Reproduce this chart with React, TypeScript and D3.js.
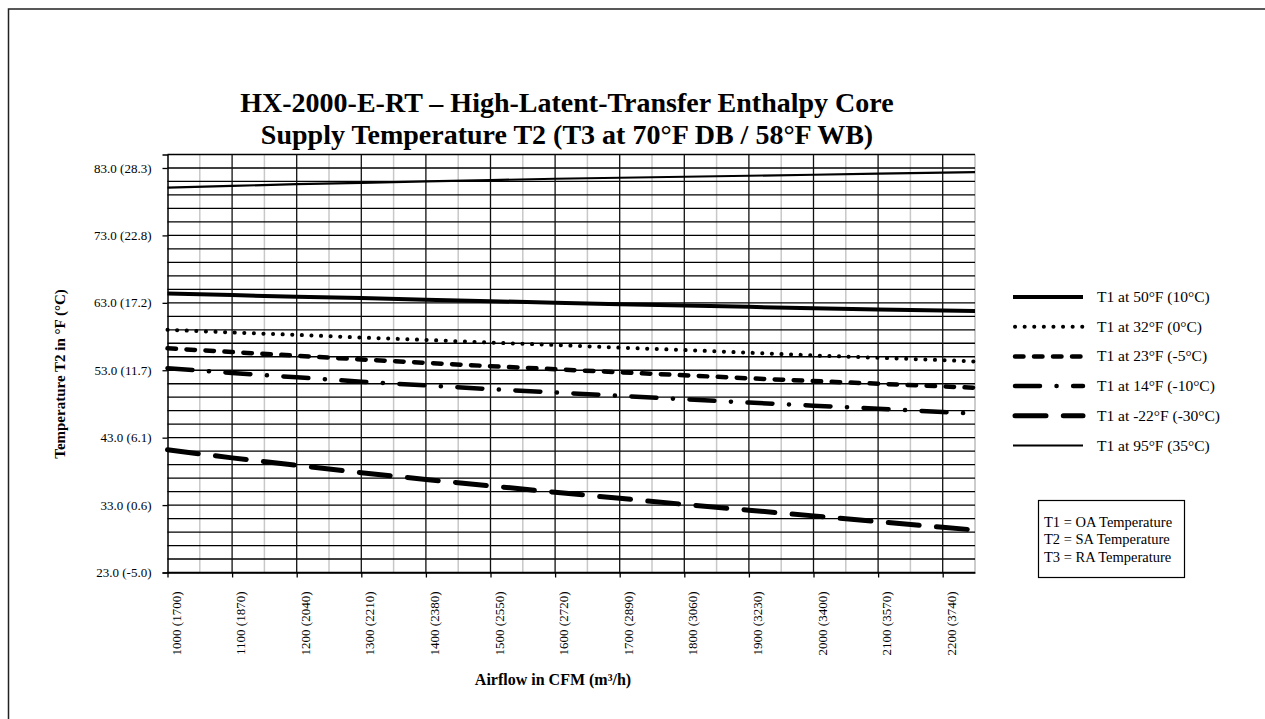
import * as d3 from "d3";
import React, { useEffect, useRef } from "react";

// Airflow in CFM (x values of every series)
const airflow = [1000, 1100, 1200, 1300, 1400, 1500, 1600, 1700, 1800, 1900, 2000, 2100, 2200, 2250];

// Supply temperature T2 in °F
const t1At50 = [64.4, 64.15, 63.9, 63.7, 63.45, 63.25, 63.0, 62.8, 62.6, 62.4, 62.2, 62.0, 61.85, 61.8];
const t1At32 = [59.0, 58.6, 58.25, 57.85, 57.5, 57.1, 56.75, 56.35, 56.0, 55.6, 55.2, 54.85, 54.5, 54.3];
const t1At23 = [56.25, 55.7, 55.15, 54.6, 54.1, 53.6, 53.15, 52.7, 52.25, 51.8, 51.4, 51.0, 50.6, 50.4];
const t1At14 = [53.3, 52.6, 51.95, 51.3, 50.75, 50.2, 49.7, 49.2, 48.7, 48.2, 47.75, 47.3, 46.8, 46.55];
const t1AtMinus22 = [41.2, 40.0, 38.9, 37.8, 36.8, 35.85, 34.9, 34.0, 33.1, 32.25, 31.4, 30.55, 29.7, 29.3];
const t1At95 = [80.1, 80.35, 80.6, 80.8, 81.0, 81.2, 81.4, 81.55, 81.7, 81.85, 82.0, 82.15, 82.3, 82.4];

const seriesNames = [
  "T1 at 50°F (10°C)",
  "T1 at 32°F (0°C)",
  "T1 at 23°F (-5°C)",
  "T1 at 14°F (-10°C)",
  "T1 at -22°F (-30°C)",
  "T1 at 95°F (35°C)",
];
const seriesValues = [t1At50, t1At32, t1At23, t1At14, t1AtMinus22, t1At95];

const yTickValues = [23, 33, 43, 53, 63, 73, 83];
const yTickLabels = ["23.0 (-5.0)", "33.0 (0.6)", "43.0 (6.1)", "53.0 (11.7)", "63.0 (17.2)", "73.0 (22.8)", "83.0 (28.3)"];

const xTickValues = [1000, 1100, 1200, 1300, 1400, 1500, 1600, 1700, 1800, 1900, 2000, 2100, 2200];
const xTickLabels = [
  "1000 (1700)", "1100 (1870)", "1200 (2040)", "1300 (2210)", "1400 (2380)", "1500 (2550)", "1600 (2720)",
  "1700 (2890)", "1800 (3060)", "1900 (3230)", "2000 (3400)", "2100 (3570)", "2200 (3740)",
];

const legendNotes = ["T1 = OA Temperature", "T2 = SA Temperature", "T3 = RA Temperature"];

const titleLines = ["HX-2000-E-RT – High-Latent-Transfer Enthalpy Core", "Supply Temperature T2 (T3 at 70°F DB / 58°F WB)"];

const FONT = "'Liberation Serif', 'Times New Roman', serif";

// line styles, same order as seriesNames
const styles = [
  { width: 4, dash: null, cap: "butt" },
  { width: 4, dash: "0.1 9.5", cap: "round" },
  { width: 4.5, dash: "8.5 10.5", cap: "round" },
  { width: 4.5, dash: "25 16.5 0.1 16.5", cap: "round" },
  { width: 5, dash: "31 17.3", cap: "round" },
  { width: 2.2, dash: null, cap: "butt" },
];

export default function App() {
  const ref = useRef<SVGSVGElement>(null);

  useEffect(() => {
    const svg = d3.select(ref.current);
    svg.selectAll("*").remove();

    const width = 1265;
    const height = 719;
    const plot = { left: 167.5, right: 975, top: 154.5, bottom: 572.5 };

    const x = d3.scaleLinear().domain([1000, 2250]).range([plot.left, plot.right]);
    const y = d3.scaleLinear().domain([23, 85]).range([plot.bottom, plot.top]);

    svg.attr("width", width).attr("height", height).style("font-family", FONT);

    // outer frame (runs past the window)
    svg
      .append("rect")
      .attr("x", 8.5)
      .attr("y", 9)
      .attr("width", 1400)
      .attr("height", 900)
      .attr("fill", "none")
      .attr("stroke", "#222")
      .attr("stroke-width", 1.5);

    // title
    svg
      .append("g")
      .selectAll("text")
      .data(titleLines)
      .join("text")
      .attr("x", 567)
      .attr("y", (_, i) => 112 + i * 32)
      .attr("text-anchor", "middle")
      .attr("font-weight", "bold")
      .attr("font-size", 28)
      .text((d) => d);

    const grid = svg.append("g");

    // light vertical lines at the half steps
    grid
      .selectAll("line.minor")
      .data(d3.range(1050, 2251, 100).concat([2250]))
      .join("line")
      .attr("class", "minor")
      .attr("x1", (d) => x(d))
      .attr("x2", (d) => x(d))
      .attr("y1", plot.top)
      .attr("y2", plot.bottom)
      .attr("stroke", "#c8c8c8")
      .attr("stroke-width", 1.5);

    // horizontal lines every 2 °F
    grid
      .selectAll("line.h")
      .data(d3.range(23, 85.1, 2))
      .join("line")
      .attr("class", "h")
      .attr("x1", plot.left)
      .attr("x2", plot.right)
      .attr("y1", (d) => y(d))
      .attr("y2", (d) => y(d))
      .attr("stroke", "#000")
      .attr("stroke-width", 1.3);

    // dark vertical lines
    grid
      .selectAll("line.major")
      .data(xTickValues.slice(1))
      .join("line")
      .attr("class", "major")
      .attr("x1", (d) => x(d))
      .attr("x2", (d) => x(d))
      .attr("y1", plot.top)
      .attr("y2", plot.bottom)
      .attr("stroke", "#111")
      .attr("stroke-width", 1.3);

    // y axis
    const yAxis = d3
      .axisLeft(y)
      .tickValues(yTickValues)
      .tickSize(5)
      .tickPadding(11)
      .tickFormat((_, i) => yTickLabels[i]);
    svg
      .append("g")
      .attr("transform", `translate(${plot.left},0)`)
      .call(yAxis)
      .call((g) => g.select(".domain").attr("stroke", "#000").attr("stroke-width", 1.5))
      .call((g) => g.selectAll(".tick line").attr("stroke-width", 1.3))
      .call((g) => g.selectAll("text").style("font-family", FONT).style("font-size", "13px").attr("fill", "#000"));

    // x axis
    const xAxis = d3.axisBottom(x).tickValues(xTickValues).tickSize(5).tickSizeOuter(0).tickFormat((_, i) => xTickLabels[i]);
    svg
      .append("g")
      .attr("transform", `translate(0,${plot.bottom})`)
      .call(xAxis)
      .call((g) => g.select(".domain").attr("stroke", "#000").attr("stroke-width", 1.5))
      .call((g) => g.selectAll(".tick line").attr("stroke-width", 1.3))
      .selectAll("text")
      .style("font-family", FONT)
      .style("font-size", "13px")
      .attr("fill", "#000")
      .style("text-anchor", "end")
      .attr("dy", null)
      .attr("y", 0)
      .attr("transform", "translate(12.5,19) rotate(-90)");

    // axis titles
    svg
      .append("text")
      .attr("x", 553)
      .attr("y", 685)
      .attr("text-anchor", "middle")
      .attr("font-weight", "bold")
      .attr("font-size", 16)
      .text("Airflow in CFM (m³/h)");

    svg
      .append("text")
      .attr("transform", "translate(65,374) rotate(-90)")
      .attr("text-anchor", "middle")
      .attr("font-weight", "bold")
      .attr("font-size", 15)
      .text("Temperature T2 in °F (°C)");

    // series
    const line = d3
      .line<number>()
      .x((_, i) => x(airflow[i]))
      .y((d) => y(d));

    svg
      .append("g")
      .selectAll("path")
      .data(seriesValues)
      .join("path")
      .attr("d", (d) => line(d))
      .attr("fill", "none")
      .attr("stroke", "#000")
      .attr("stroke-width", (_, i) => styles[i].width)
      .attr("stroke-dasharray", (_, i) => styles[i].dash)
      .attr("stroke-linecap", (_, i) => styles[i].cap);

    // legend
    const legend = svg.append("g").attr("transform", "translate(1013,297)");
    const rows = legend
      .selectAll("g")
      .data(seriesNames)
      .join("g")
      .attr("transform", (_, i) => `translate(0,${i * 29.7})`);
    rows
      .append("line")
      .attr("x1", (_, i) => (styles[i].cap === "round" ? 2 : 0))
      .attr("x2", 70)
      .attr("stroke", "#000")
      .attr("stroke-width", (_, i) => styles[i].width)
      .attr("stroke-dasharray", (_, i) => styles[i].dash)
      .attr("stroke-linecap", (_, i) => styles[i].cap);
    rows
      .append("text")
      .attr("x", 84)
      .attr("y", 5)
      .attr("font-size", 15.5)
      .text((d) => d);

    // note box
    const note = svg.append("g").attr("transform", "translate(1038,500)");
    note
      .append("rect")
      .attr("x", 0.5)
      .attr("y", 0.5)
      .attr("width", 146)
      .attr("height", 77)
      .attr("fill", "none")
      .attr("stroke", "#000")
      .attr("stroke-width", 1.2);
    note
      .selectAll("text")
      .data(legendNotes)
      .join("text")
      .attr("x", 6)
      .attr("y", (_, i) => 27 + i * 17.3)
      .attr("font-size", 14.5)
      .text((d) => d);
  }, []);

  return <svg ref={ref} style={{ position: "absolute", left: 0, top: 0 }} width={1265} height={719}></svg>;
}
